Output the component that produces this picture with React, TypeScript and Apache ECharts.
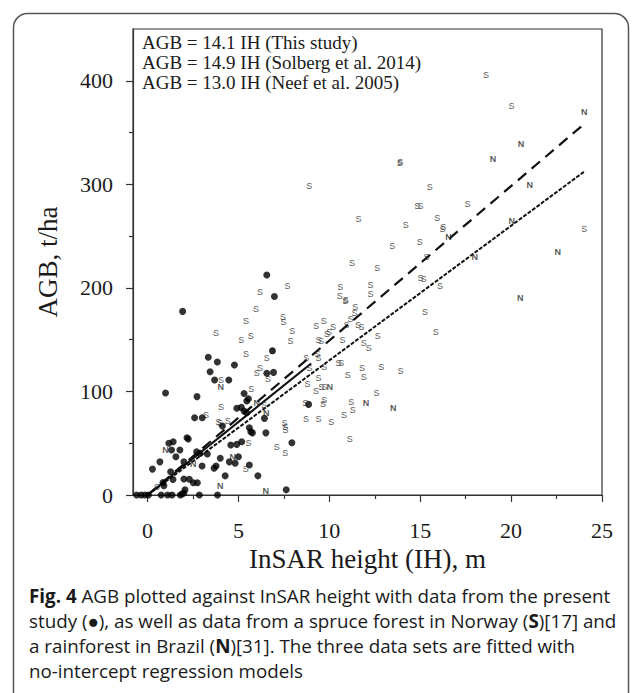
import React, { useEffect, useRef } from "react";
import * as echarts from "echarts";

// ---- data ----
const xTickLabels = [0, 5, 10, 15, 20, 25];
const xMinorTicks = [2.5, 7.5, 12.5, 17.5, 22.5];
const yTickLabels = [0, 100, 200, 300, 400];
const yMinorTicks = [50, 150, 250, 350];

const legendLines = [
  "AGB = 14.1 IH (This study)",
  "AGB = 14.9 IH (Solberg et al. 2014)",
  "AGB = 13.0 IH (Neef et al. 2005)",
];

// present study (filled dots)
const studyPoints = [
  [-0.6, 0], [-0.35, 0], [-0.15, 0], [0.05, 0], [0.75, 0], [1.1, 0], [1.35, 0], [1.8, 0],
  [1.9, 1], [2.0, 2], [2.06, 5], [2.85, 0], [3.85, 0],
  [0.9, 9], [0.85, 12], [1.4, 15], [2.0, 15.4], [2.3, 15.2], [2.52, 11.9], [2.74, 11.9],
  [4.27, 18.5], [6.07, 18.5], [1.27, 22.5], [0.27, 25], [0.68, 32], [2.0, 32], [3.0, 28],
  [3.66, 25.8], [3.77, 28], [4.5, 32], [4.82, 30.6], [5.0, 37], [5.6, 29], [4.0, 35.5],
  [1.56, 37], [2.7, 41.8], [2.88, 40.2], [3.29, 39.6], [1.32, 43.4], [1.78, 43.4],
  [1.17, 50], [1.41, 51.4], [2.17, 55.3], [2.24, 54], [4.58, 48.3], [4.91, 48.9], [5.18, 51.4],
  [7.94, 50.5], [7.63, 5],
  [4.12, 66.6], [5.6, 65], [5.68, 61], [5.77, 60], [6.51, 60], [6.43, 74], [2.59, 74.6], [3.01, 74.6],
  [4.91, 83.7], [5.16, 84.6], [5.31, 81], [5.46, 79.5], [5.55, 93], [5.46, 90.7], [5.31, 98],
  [2.72, 95], [0.99, 98.5],
  [3.44, 119], [3.69, 111], [4.47, 111], [3.34, 133], [3.84, 128.4], [4.78, 125.5],
  [6.56, 117.5], [6.93, 118.4], [6.87, 139.3],
  [1.93, 177.3], [6.98, 191.6], [6.56, 212.4], [8.86, 87.5],
];

// spruce forest, Norway (S)
const spruceNorway = [
  [8.9, 298], [11.6, 267], [13.46, 240], [11.25, 224], [12.63, 219], [7.7, 202], [6.19, 196],
  [5.96, 180], [5.42, 168], [3.77, 156], [5.15, 150], [5.68, 153.5], [7.45, 172], [7.48, 166.7],
  [7.96, 158.6], [7.87, 149], [9.28, 163], [9.69, 168], [10.2, 162.5], [9.41, 149.6], [9.54, 149],
  [9.87, 155.4], [9.98, 157], [10.57, 192], [10.88, 187], [10.9, 188], [11.43, 181.8], [11.38, 175.4],
  [11.16, 170], [10.94, 164], [11.58, 163.8], [11.77, 162.5], [10.73, 149.6], [11.89, 146.4],
  [12.26, 193.7], [12.66, 153.8], [12.17, 141.6],
  [13.88, 321], [13.9, 322], [18.62, 406], [20.02, 376], [15.53, 297], [14.84, 279], [15.02, 278.6],
  [17.6, 281], [14.21, 260.6], [15.94, 267.4], [16.27, 259], [16.22, 256.8], [14.98, 244], [24.03, 257],
  [15.35, 229.4], [15.02, 209.5], [15.2, 208.8], [16.09, 201.7], [12.26, 202.7], [10.6, 201],
  [15.26, 176.6], [15.85, 157.6],
  [8.73, 132.5], [9.35, 136], [9.41, 132], [8.91, 123], [9.72, 123.8], [10.51, 127], [10.66, 127],
  [11.8, 122.6], [12.85, 123.6], [13.92, 119.7], [9.41, 113], [11.01, 115.5], [11.9, 114],
  [8.8, 106.8], [9.27, 100.4], [9.56, 104.5], [9.74, 104.5], [12.59, 98.8], [8.68, 89], [9.65, 87.8],
  [9.72, 91.7], [11.2, 89.5], [11.29, 82], [10.81, 77.5], [8.71, 73.7], [9.41, 73.4], [10.11, 70.5],
  [11.12, 53.8],
  [5.42, 135.8], [6.56, 132.5], [6.87, 139.3], [6.01, 117.5], [6.19, 122.3], [6.62, 111.7],
  [4.04, 111], [5.7, 102.3], [6.41, 86.9], [4.04, 85], [3.22, 77], [3.89, 70.8], [3.99, 69.2],
  [4.41, 71.4], [7.53, 70], [7.57, 66], [7.59, 62.7], [5.55, 49.9], [5.4, 25], [7.11, 46.6],
  [7.57, 40.2], [0.5, 8],
];

// rainforest, Brazil (N)
const rainforestBrazil = [
  [24.03, 369.4], [20.54, 339], [19.0, 324.3], [21.03, 299.5], [16.55, 249.3], [20.04, 264.8],
  [22.56, 234.3], [18.0, 229.4], [20.5, 190], [10.02, 104], [12.02, 88.5], [13.51, 83.7],
  [4.03, 104], [6.01, 89], [6.53, 79.5], [0.99, 43.4], [2.52, 30], [4.69, 37], [4.0, 9], [6.5, 4],
];

// regression line end points
const fitThisStudy = [[0, 0], [9, 127]];
const fitSolberg = [[0, 0], [24, 358]];
const fitNeef = [[0, 0], [24, 312]];

const captionLines = [
  "{b|Fig. 4} AGB plotted against InSAR height with data from the present",
  "study (\u25CF), as well as data from a spruce forest in Norway ({b|S})[17] and",
  "a rainforest in Brazil ({b|N})[31]. The three data sets are fitted with",
  "no-intercept regression models",
];

const SERIF = "'Liberation Serif', 'Times New Roman', serif";
const SANS = "'Open Sans', 'Noto Sans', sans-serif";
const MARK_FONT = "'Liberation Sans', Arial, sans-serif";
const INK = "#1a1a1a";
const MARK_INK = "#2a2a2a";
const AXIS_INK = "#333";

export default function App() {
  const ref = useRef<HTMLDivElement>(null);

  useEffect(() => {
    if (!ref.current) return;
    const chart = echarts.init(ref.current, undefined, { renderer: "svg" });

    const baseX = {
      type: "value",
      min: -0.8,
      max: 25,
      position: "bottom",
      splitLine: { show: false },
    };
    const baseY = {
      type: "value",
      min: 0,
      max: 450,
      position: "left",
      splitLine: { show: false },
    };

    const caption = captionLines.map((t, i) => ({
      type: "text",
      left: 29,
      top: 586 + i * 25.3,
      style: {
        text: t,
        fontFamily: SANS,
        fontSize: 18.8,
        fill: INK,
        rich: {
          b: { fontWeight: "bold", fontFamily: SANS, fontSize: 18.8, fill: INK },
        },
      },
    }));

    const legend = legendLines.map((t, i) => ({
      type: "text",
      left: 142,
      top: 33 + i * 20,
      style: { text: t, fontFamily: SERIF, fontSize: 19, fill: INK },
    }));

    const markLabel = (txt: string, bold: boolean) => ({
      show: true,
      position: "inside",
      formatter: txt,
      fontFamily: MARK_FONT,
      fontSize: 9,
      fontWeight: bold ? "bold" : "normal",
      color: MARK_INK,
      textBorderWidth: 0,
    });

    const lineStyleAxis = { color: AXIS_INK, width: 1.2 };

    chart.setOption({
      animation: false,
      backgroundColor: "#fff",
      grid: {
        left: 133,
        right: 31,
        top: 29,
        bottom: 198,
        show: true,
        borderColor: AXIS_INK,
        borderWidth: 1.2,
        containLabel: false,
      },
      xAxis: [
        {
          ...baseX,
          name: "InSAR height (IH), m",
          nameLocation: "middle",
          nameGap: 47,
          nameTextStyle: { fontFamily: SERIF, fontSize: 27, color: INK },
          axisLine: { show: true, onZero: false, lineStyle: lineStyleAxis },
          axisTick: {
            show: true,
            inside: false,
            length: 7,
            customValues: xTickLabels,
            lineStyle: lineStyleAxis,
          },
          axisLabel: {
            customValues: xTickLabels,
            margin: 24,
            fontFamily: SERIF,
            fontSize: 22,
            color: INK,
          },
        },
        {
          ...baseX,
          axisLine: { show: false, onZero: false },
          axisTick: {
            show: true,
            inside: false,
            length: 4,
            customValues: xMinorTicks,
            lineStyle: lineStyleAxis,
          },
          axisLabel: { show: false },
        },
      ],
      yAxis: [
        {
          ...baseY,
          name: "AGB, t/ha",
          nameLocation: "middle",
          nameGap: 72,
          nameTextStyle: { fontFamily: SERIF, fontSize: 27, color: INK },
          axisLine: { show: true, onZero: false, lineStyle: lineStyleAxis },
          axisTick: {
            show: true,
            inside: false,
            length: 7,
            customValues: yTickLabels,
            lineStyle: lineStyleAxis,
          },
          axisLabel: {
            customValues: yTickLabels,
            margin: 20,
            fontFamily: SERIF,
            fontSize: 22,
            color: INK,
          },
        },
        {
          ...baseY,
          axisLine: { show: false, onZero: false },
          axisTick: {
            show: true,
            inside: false,
            length: 4,
            customValues: yMinorTicks,
            lineStyle: lineStyleAxis,
          },
          axisLabel: { show: false },
        },
      ],
      series: [
        {
          type: "line",
          data: fitSolberg,
          showSymbol: false,
          symbol: "none",
          color: "#111",
          lineStyle: { color: "#111", width: 2.2, type: [11, 7] },
          z: 3,
        },
        {
          type: "line",
          data: fitNeef,
          showSymbol: false,
          symbol: "none",
          color: "#111",
          lineStyle: { color: "#111", width: 2, type: [4, 1.5] },
          z: 3,
        },
        {
          type: "line",
          data: fitThisStudy,
          showSymbol: false,
          symbol: "none",
          color: "#111",
          lineStyle: { color: "#111", width: 2.2, type: "solid" },
          z: 3,
        },
        {
          type: "scatter",
          data: spruceNorway,
          symbolSize: 1,
          itemStyle: { color: "rgba(0,0,0,0)" },
          label: markLabel("S", false),
          emphasis: { disabled: true },
          z: 4,
        },
        {
          type: "scatter",
          data: rainforestBrazil,
          symbolSize: 1,
          itemStyle: { color: "rgba(0,0,0,0)" },
          label: markLabel("N", true),
          emphasis: { disabled: true },
          z: 4,
        },
        {
          type: "scatter",
          data: studyPoints,
          symbol: "circle",
          symbolSize: 7,
          color: "#000",
          itemStyle: { color: "#000" },
          emphasis: { disabled: true },
          z: 5,
        },
      ],
      graphic: [
        {
          type: "rect",
          shape: { x: 13.5, y: 13.5, width: 615, height: 720, r: 14 },
          style: { fill: "none", stroke: "#555", lineWidth: 1.5 },
          silent: true,
        },
        ...legend,
        ...caption,
      ],
    });

    return () => chart.dispose();
  }, []);

  return (
    <div
      ref={ref}
      style={{ position: "fixed", left: 0, top: 0, width: 633, height: 693 }}
    />
  );
}
